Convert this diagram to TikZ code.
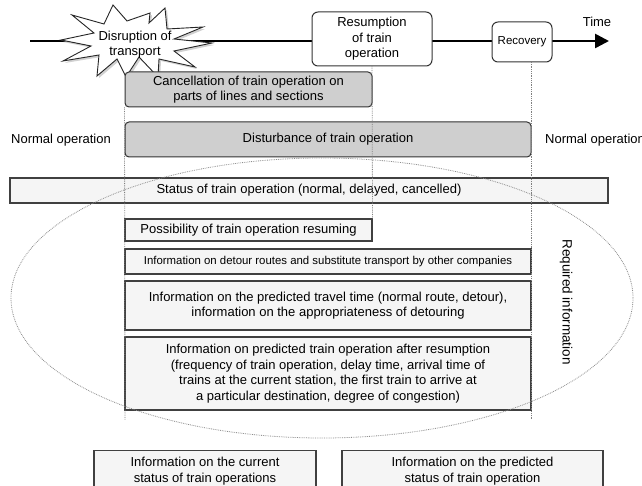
\documentclass[tikz,border=0pt]{standalone}
\usepackage{fontspec}
\setmainfont{Liberation Sans}
\usetikzlibrary{arrows.meta}
\begin{document}
\begin{tikzpicture}[x=1pt,y=-1pt,
  graybox/.style={draw=black!80, line width=1pt, fill=black!19, rounded corners=4pt, inner sep=0pt, align=center, font=\fontsize{13}{15.5}\selectfont},
  infobox/.style={draw=black!75, line width=1.1pt, fill=black!4, inner sep=0pt, align=center, font=\fontsize{13}{15.5}\selectfont},
  roundbox/.style={draw=black!80, line width=1pt, fill=white, rounded corners=6pt, inner sep=0pt, align=center, font=\fontsize{13}{15.5}\selectfont},
  dotline/.style={densely dotted, black!50, line width=0.8pt},
  plain/.style={inner sep=0pt, align=center, font=\fontsize{13}{15.5}\selectfont},
]
\useasboundingbox (0,0) rectangle (642,486);
\clip (0,0) rectangle (642,486);
\fill[white] (0,0) rectangle (642,486);

% time line
\coordinate (tstart) at (30,41);
\coordinate (tend) at (609,41);
\draw[line width=2.6pt, -{Triangle[length=14pt,width=14pt]}] (tstart) -- (tend);
\node[plain] (time) at (597,22) {Time};

% starburst
\fill[black!18] (63,42) -- (96,34) -- (74,17) -- (106,26) -- (115,7) -- (129,23) -- (152,15) -- (151,25) -- (167,10) -- (169,31) -- (205,29) -- (176,41) -- (214,45) -- (176,53) -- (197,69) -- (161,61) -- (160,79) -- (141,59) -- (128,79) -- (119,61) -- (99,78) -- (101,57) -- (65,63) -- (93,48) -- cycle;
\filldraw[fill=white, draw=black!85, line width=0.9pt, line join=miter] (61,40) -- (94,33) -- (72,15) -- (104,24) -- (113,5) -- (127,21) -- (150,13) -- (149,23) -- (165,8) -- (167,29) -- (203,27) -- (174,39) -- (212,43) -- (174,51) -- (195,67) -- (159,59) -- (158,77) -- (139,57) -- (126,77) -- (117,59) -- (97,76) -- (99,55) -- (63,61) -- (91,46) -- cycle;
\node[plain, font=\fontsize{13}{15}\selectfont] (disrupt) at (135,45) {Disruption of\\transport};

% event boxes
\node[roundbox, minimum width=120pt, minimum height=54pt] (resume) at (372,39) {Resumption\\of train\\operation};
\node[roundbox, minimum width=60pt, minimum height=40pt, font=\fontsize{11.5}{14}\selectfont] (recovery) at (522,42) {Recovery};

% gray boxes
\node[graybox, minimum width=247pt, minimum height=35pt] (cancel) at (248.5,89.5) {Cancellation of train operation on\\parts of lines and sections};
\node[graybox, minimum width=406pt, minimum height=35pt] (disturb) at (328,139.5) {Disturbance of train operation};
\node[plain, anchor=center] (normL) at (61,140) {Normal operation};
\node[plain, anchor=west] (normR) at (545,140) {Normal operation};

% information boxes
\node[infobox, minimum width=598pt, minimum height=25pt] (status) at (309,190.5) {Status of train operation (normal, delayed, cancelled)};
\node[infobox, minimum width=247pt, minimum height=22pt] (possib) at (248.5,230) {Possibility of train operation resuming};
\node[infobox, minimum width=406pt, minimum height=25pt, font=\fontsize{11.4}{14}\selectfont] (detour) at (328,261.5) {Information on detour routes and substitute transport by other companies};
\node[infobox, minimum width=406pt, minimum height=49pt] (travel) at (328,305.5) {Information on the predicted travel time (normal route, detour),\\information on the appropriateness of detouring};
\node[infobox, minimum width=406pt, minimum height=73pt] (predict) at (328,373.5) {Information on predicted train operation after resumption\\(frequency of train operation, delay time, arrival time of\\trains at the current station, the first train to arrive at\\a particular destination, degree of congestion)};

\node[plain, rotate=-90, font=\fontsize{13.5}{16}\selectfont] (required) at (566,302) {Required information};

% ellipse of required information
\draw[densely dotted, black!45, line width=0.8pt] (322,298) ellipse [x radius=311pt, y radius=140pt];

% dotted guide lines
\coordinate (lbot) at (125,420);
\coordinate (rtop) at (531,62);
\coordinate (rbot) at (531,420);
\draw[dotline] (cancel.south west) -- (lbot);
\draw[dotline] (resume.south) -- (possib.north east);
\draw[dotline] (rtop) -- (rbot);

% bottom boxes
\node[infobox, minimum width=222pt, minimum height=50pt, anchor=north] (current) at (205,450) {};
\node[plain, anchor=center] (currentT) at (205,471) {Information on the current\\status of train operations};
\node[infobox, minimum width=261pt, minimum height=50pt, anchor=north] (future) at (472.5,450) {};
\node[plain, anchor=center] (futureT) at (472.5,471) {Information on the predicted\\status of train operation};
\end{tikzpicture}
\end{document}
